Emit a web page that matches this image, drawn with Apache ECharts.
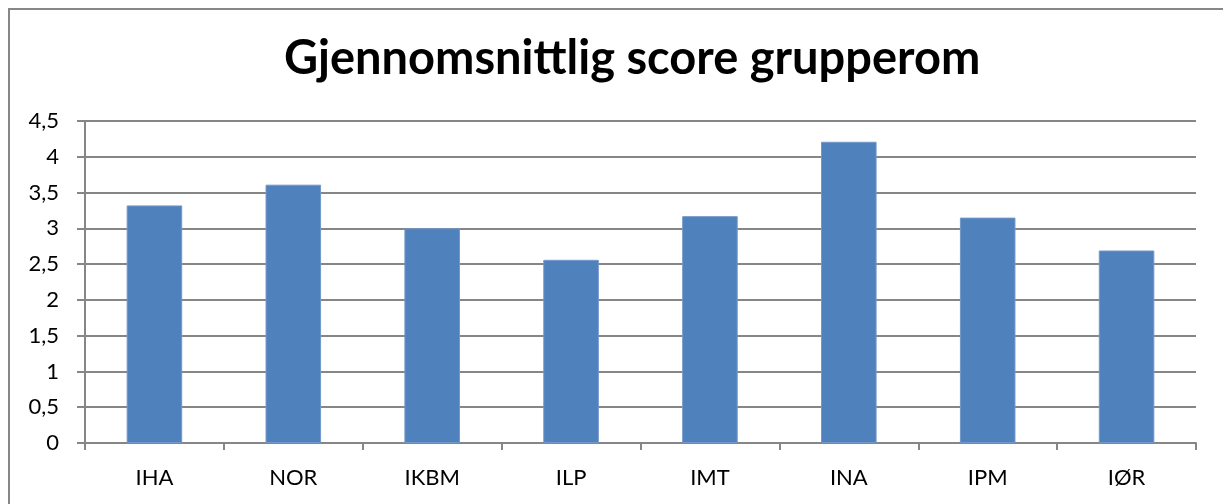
<!DOCTYPE html>
<html>
<head>
<meta charset="utf-8">
<script src="https://cdn.jsdelivr.net/npm/echarts@6/dist/echarts.min.js"></script>
<style>
  html, body { margin: 0; padding: 0; background: #fff; }
  #chart { width: 1223px; height: 504px; }
</style>
</head>
<body>
<div id="chart"></div>
<script>
const categories = ['IHA', 'NOR', 'IKBM', 'ILP', 'IMT', 'INA', 'IPM', 'IØR'];
const scores = [3.32, 3.61, 3.0, 2.56, 3.17, 4.21, 3.15, 2.69];

const chart = echarts.init(document.getElementById('chart'));

const option = {
  animation: false,
  title: {
    text: 'Gjennomsnittlig score grupperom',
    left: 279,
    top: 30,
    textStyle: {
      fontFamily: 'Lato',
      fontWeight: 'bold',
      fontSize: 47,
      color: '#000'
    }
  },
  graphic: [
    {
      type: 'rect',
      shape: { x: 9, y: 9, width: 1240, height: 520 },
      style: { fill: 'none', stroke: '#878787', lineWidth: 2 }
    }
  ],
  grid: {
    left: 85,
    right: 27,
    top: 121,
    bottom: 61
  },
  xAxis: {
    type: 'category',
    data: categories,
    axisLine: { lineStyle: { color: '#868686', width: 2 } },
    axisTick: { show: true, length: 7, lineStyle: { color: '#868686', width: 2 } },
    axisLabel: {
      fontFamily: 'Lato',
      fontSize: 22,
      color: '#000',
      margin: 24
    }
  },
  yAxis: {
    type: 'value',
    min: 0,
    max: 4.5,
    interval: 0.5,
    axisLine: { show: true, lineStyle: { color: '#868686', width: 2 } },
    axisTick: { show: true, length: 8, lineStyle: { color: '#868686', width: 2 } },
    splitLine: { lineStyle: { color: '#868686', width: 2 } },
    axisLabel: {
      fontFamily: 'Lato',
      fontSize: 22,
      color: '#000',
      margin: 26,
      formatter: v => String(v).replace('.', ',')
    }
  },
  series: [
    {
      type: 'bar',
      data: scores,
      barWidth: '40%',
      itemStyle: {
        color: '#4F81BD',
        borderColor: '#7397c9',
        borderWidth: 1
      }
    }
  ]
};

chart.setOption(option);
</script>
</body>
</html>
